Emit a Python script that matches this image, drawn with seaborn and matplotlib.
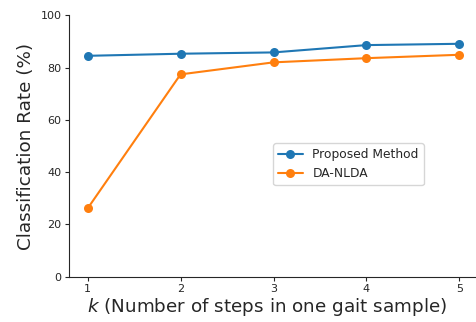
import matplotlib
matplotlib.use("Agg")
import matplotlib.pyplot as plt
import seaborn as sns
import pandas as pd

# Gait recognition accuracy versus number of steps per sample
k_values = [1, 2, 3, 4, 5]
proposed = [84.5, 85.3, 85.8, 88.6, 89.1]
da_nlda = [26.1, 77.4, 82.0, 83.6, 84.9]
series_names = ["Proposed Method", "DA-NLDA"]

df = pd.DataFrame({
    "k": k_values * 2,
    "rate": proposed + da_nlda,
    "method": [series_names[0]] * len(k_values) + [series_names[1]] * len(k_values),
})

sns.set_style("ticks")
plt.rcParams["font.family"] = ["DejaVu Sans"]

fig = plt.figure(figsize=(4.76, 3.22), dpi=100)
ax = fig.add_axes([69 / 476, 45.3 / 322, 409 / 476, 261.4 / 322])

sns.lineplot(data=df, x="k", y="rate", hue="method", hue_order=series_names,
             palette=["#1f77b4", "#ff7f0e"], marker="o", markersize=6.5,
             markeredgewidth=0, linewidth=1.5, ax=ax)

ax.set_xlim(0.8, 5.2)
ax.set_ylim(0, 100)
ax.set_xticks(k_values)
ax.set_yticks([0, 20, 40, 60, 80, 100])
ax.tick_params(labelsize=8, length=3, pad=2.5, colors="#262626")
ax.set_xlabel("$k$ (Number of steps in one gait sample)", fontsize=13.2, labelpad=1)
ax.xaxis.label.set_x(0.484)
ax.set_ylabel("Classification Rate (%)", fontsize=13.2, labelpad=4)
sns.despine(ax=ax)

leg = ax.legend(loc="lower left", bbox_to_anchor=(0.4995, 0.351), borderaxespad=0,
                fontsize=8.8, frameon=True, fancybox=True)
leg.get_frame().set_edgecolor("#cccccc")

fig.savefig("out.png", dpi=100)
